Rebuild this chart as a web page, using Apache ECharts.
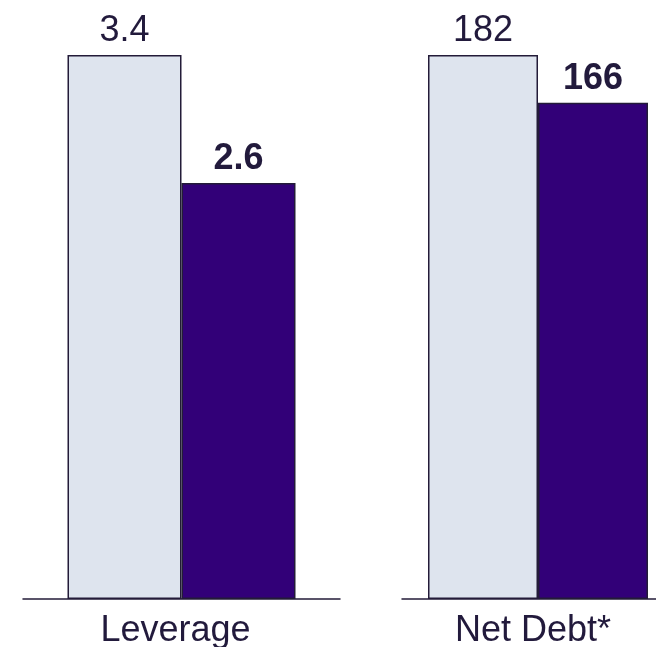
<!DOCTYPE html>
<html>
<head>
<meta charset="utf-8">
<script src="https://cdn.jsdelivr.net/npm/echarts@6/dist/echarts.min.js"></script>
<style>
  html, body { margin: 0; padding: 0; background: #ffffff; }
  #chart { width: 656px; height: 647px; }
</style>
</head>
<body>
<div id="chart"></div>
<script>
// Panel titles
const categories = ['Leverage', 'Net Debt*'];
// Earlier figure (light bar) and current figure (dark bar) for each panel
const priorValues = [3.4, 182];
const currentValues = [2.6, 166];
// Top of each panel's value scale
const axisMax = [3.4, 182];

const textColor = '#221a3c';
const lineColor = '#231b38';
const lightFill = '#dee4ee';
const darkFill = '#320078';
const fontFamily = 'Arial';

// The right panel runs past the page edge, so bounds clamping is off
const grids = [
  { left: 23, width: 317, top: 55, height: 544, outerBoundsMode: 'none' },
  { left: 402, width: 272, top: 55, height: 544, outerBoundsMode: 'none' }
];
const barWidths = [114, 110];
const labelPad = [12, 10];

const xAxes = categories.map((c, i) => ({
  type: 'category',
  gridIndex: i,
  data: [c],
  axisLine: { show: true, lineStyle: { color: lineColor, width: 1.5 } },
  axisTick: { show: false },
  axisLabel: {
    color: textColor, fontSize: 36, fontFamily: fontFamily,
    margin: 14, padding: [0, labelPad[i], 0, 0]
  }
}));

const yAxes = categories.map((c, i) => ({
  type: 'value', gridIndex: i, min: 0, max: axisMax[i], show: false
}));

const series = [];
categories.forEach((c, i) => {
  series.push({
    type: 'bar', xAxisIndex: i, yAxisIndex: i,
    data: [priorValues[i]],
    barWidth: barWidths[i], barGap: '0%',
    itemStyle: { color: lightFill, borderColor: lineColor, borderWidth: 1.5 },
    label: {
      show: true, position: 'top', distance: 6,
      color: textColor, fontSize: 36, fontFamily: fontFamily
    },
    silent: true, animation: false
  });
  series.push({
    type: 'bar', xAxisIndex: i, yAxisIndex: i,
    data: [currentValues[i]],
    barWidth: barWidths[i], barGap: '0%',
    itemStyle: { color: darkFill, borderColor: lineColor, borderWidth: 1.5 },
    label: {
      show: true, position: 'top', distance: 6,
      color: textColor, fontSize: 36, fontWeight: 'bold', fontFamily: fontFamily
    },
    silent: true, animation: false
  });
});

const chart = echarts.init(document.getElementById('chart'));
chart.setOption({
  backgroundColor: '#ffffff',
  animation: false,
  grid: grids,
  xAxis: xAxes,
  yAxis: yAxes,
  series: series
});
</script>
</body>
</html>
